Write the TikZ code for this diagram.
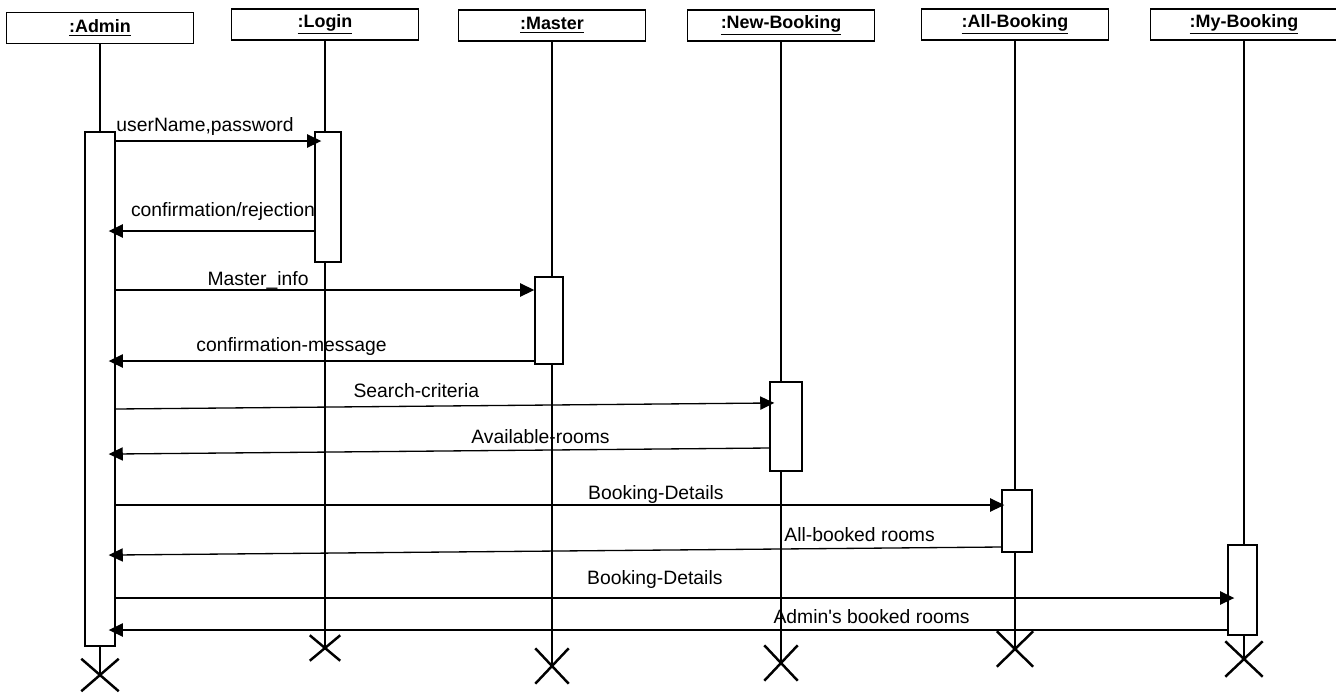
\documentclass[tikz,border=0pt]{standalone}
\usepackage{fontspec}
\setmainfont{Liberation Sans}
\usetikzlibrary{arrows.meta,shapes.misc}
\tikzset{
  head/.style={draw, line width=1.1pt, minimum width=37.4mm, minimum height=6.2mm, inner sep=0pt, font=\fontsize{10.2}{12}\selectfont\bfseries},
  act/.style={draw, line width=0.8pt, fill=white, inner sep=0pt, minimum width=#1},
  act/.default={6mm},
  life/.style={line width=0.8pt},
  msg/.style={-{Triangle[length=8pt, width=7.5pt]}, line width=0.75pt},
  lbl/.style={font=\fontsize{11}{13}\selectfont, anchor=base, inner sep=0pt},
  kill/.style={draw, cross out, line width=1.4pt, inner sep=0pt, minimum width=6.6mm, minimum height=6.6mm}
}

\begin{document}
\begin{tikzpicture}[x=0.2mm, y=-0.2mm]
        \useasboundingbox (0,0) rectangle (1336,693);
        % objects
        \node[head] (hAdm) at (100,28) {\underline{:Admin}};
        \node[head] (hLgn) at (325,24.5) {\underline{:Login}};
        \node[head] (hMst) at (552,25.5) {\underline{:Master}};
        \node[head] (hNew) at (781,25.5) {\underline{:New-Booking}};
        \node[head] (hAll) at (1015,24.5) {\underline{:All-Booking}};
        \node[head] (hMy) at (1244,24.5) {\underline{:My-Booking}};
        % destruction marks
        \node[kill, minimum width=7mm, minimum height=6mm] (kAdm) at (100,675) {};
        \node[kill, minimum width=5.6mm, minimum height=4.6mm] (kLgn) at (325,648) {};
        \node[kill, minimum width=6.2mm] (kMst) at (552,666) {};
        \node[kill, minimum width=6.2mm] (kNew) at (781,663) {};
        \node[kill, minimum width=6.8mm] (kAll) at (1015,649) {};
        \node[kill, minimum width=7mm] (kMy) at (1244,659) {};
        % lifelines
        \draw[life] (hAdm.south) -- (kAdm.center);
        \draw[life] (hLgn.south) -- (kLgn.center);
        \draw[life] (hMst.south) -- (kMst.center);
        \draw[life] (hNew.south) -- (kNew.center);
        \draw[life] (hAll.south) -- (kAll.center);
        \draw[life] (hMy.south) -- (kMy.center);
        % activations
        \node[act=6mm, minimum height=102.8mm] (aAdm) at (100,389) {};
        \node[act=5.2mm, minimum height=26mm] (aLgn) at (328,197) {};
        \node[act=5.6mm, minimum height=17.4mm] (aMst) at (549,320.5) {};
        \node[act=6.4mm, minimum height=17.8mm] (aNew) at (786,426.5) {};
        \node[act=6mm, minimum height=12.4mm] (aAll) at (1017,521) {};
        \node[act=5.8mm, minimum height=18mm] (aMy) at (1242.5,590) {};
        % messages
        \draw[msg, shorten >=-1.4mm] (aAdm.east |- 0,141) -- node[lbl, pos=.45, yshift=2mm] {userName,password} (aLgn.west |- 0,141);
        \draw[msg, shorten >=-1.4mm] (aLgn.west |- 0,231) -- node[lbl, pos=.46, yshift=3mm] {confirmation/rejection} (aAdm.east |- 0,231);
        \draw[msg] (aAdm.east |- 0,290) -- node[lbl, pos=.34, yshift=1mm] {Master\_info} (aMst.west |- 0,290);
        \draw[msg, shorten >=-1.4mm] (aMst.west |- 0,361) -- node[lbl, pos=.58, yshift=2mm] {confirmation-message} (aAdm.east |- 0,361);
        \draw[msg, shorten >=-1mm] (aAdm.east |- 0,409) -- node[lbl, pos=.46, yshift=1.8mm] {Search-criteria} (aNew.west |- 0,403);
        \draw[msg, shorten >=-1.4mm] (aNew.west |- 0,448) -- node[lbl, pos=.35, yshift=1.4mm] {Available-rooms} (aAdm.east |- 0,454);
        \draw[msg, shorten >=-0.6mm] (aAdm.east |- 0,505) -- node[lbl, pos=.61, yshift=1.2mm] {Booking-Details} (aAll.west |- 0,505);
        \draw[msg, shorten >=-1.4mm] (aAll.west |- 0,547) -- node[lbl, pos=.16, yshift=1.4mm] {All-booked rooms} (aAdm.east |- 0,555);
        \draw[msg, shorten >=-1.4mm] (aAdm.east |- 0,598) -- node[lbl, pos=.485, yshift=2.8mm] {Booking-Details} (aMy.west |- 0,598);
        \draw[msg, shorten >=-1.4mm] (aMy.west |- 0,630) -- node[lbl, pos=.32, yshift=1.4mm] {Admin\textquotesingle s booked rooms} (aAdm.east |- 0,630);
      \end{tikzpicture}
\end{document}
